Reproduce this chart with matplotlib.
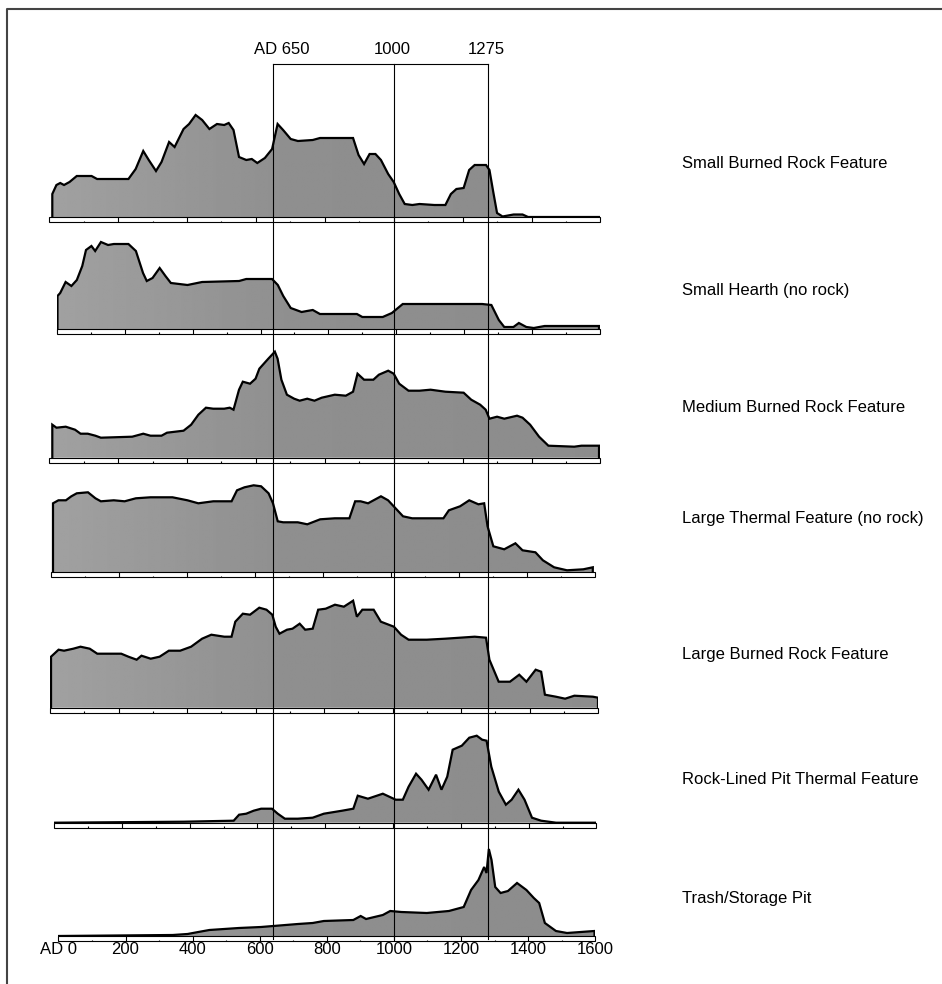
import matplotlib
matplotlib.use("Agg")
import matplotlib.pyplot as plt
import numpy as np
from matplotlib.patches import Rectangle, Polygon
from matplotlib.lines import Line2D
from matplotlib.transforms import blended_transform_factory, offset_copy

plt.rcParams['font.family'] = ['Liberation Sans', 'DejaVu Sans']

W, H = 942, 984

# --- data (relative frequency) ---
feature_names = ["Small Burned Rock Feature", "Small Hearth (no rock)",
                 "Medium Burned Rock Feature", "Large Thermal Feature (no rock)",
                 "Large Burned Rock Feature", "Rock-Lined Pit Thermal Feature",
                 "Trash/Storage Pit"]

small_burned_yr = [9, 21, 32, 43, 59, 80, 123, 139, 230, 251, 273, 289, 310, 326, 348,
                   364, 390, 406, 425, 444, 465, 487, 508, 521, 535, 551, 572, 588, 604,
                   626, 647, 663, 679, 701, 722, 765, 786, 882, 898, 914, 930, 947, 963,
                   984, 1000, 1016, 1032, 1054, 1075, 1118, 1150, 1166, 1182, 1203, 1219,
                   1235, 1268, 1278, 1289, 1300, 1316, 1348, 1374, 1390, 1600]
small_burned_h = [23, 32, 34, 32, 35, 41, 41, 38, 38, 48, 66, 57, 46, 55, 75,
                  70, 88, 93, 102, 97, 88, 93, 92, 94, 87, 60, 57, 58, 54,
                  59, 68, 93, 87, 78, 76, 77, 79, 79, 62, 53, 63, 63, 57,
                  43, 35, 23, 13, 12, 13, 12, 12, 23, 28, 29, 47,
                  52, 52, 47, 25, 4, 0.5, 2.5, 2.5, 0, 0]

small_hearth_yr = [2, 10, 26, 43, 59, 75, 86, 102, 113, 130, 151, 168, 211, 233, 254,
                   265, 282, 303, 320, 336, 385, 428, 537, 558, 634, 651, 667, 689, 721,
                   737, 754, 775, 884, 900, 960, 987, 1019, 1101, 1253, 1280, 1302, 1318,
                   1345, 1361, 1383, 1405, 1437, 1597]
small_hearth_h = [33, 36, 47, 43, 49, 63, 79, 83, 78, 87, 84, 85, 85, 78, 56,
                  48, 51, 61, 53, 46, 44, 47, 48, 50, 50, 44, 33, 21, 17,
                  18, 19, 15, 15, 12, 12, 16, 25, 25, 25, 24, 9, 2,
                  2, 6, 2, 1, 3, 3]

medium_burned_yr = [9, 21, 48, 75, 91, 112, 134, 150, 241, 273, 294, 326, 342, 390, 412,
                    433, 455, 476, 508, 524, 535, 551, 562, 583, 599, 610, 636, 655, 663,
                    674, 690, 711, 727, 749, 770, 791, 829, 861, 882, 895, 914, 941, 957,
                    984, 1000, 1016, 1043, 1075, 1107, 1150, 1203, 1225, 1251, 1267, 1278,
                    1300, 1321, 1358, 1374, 1396, 1422, 1449, 1524, 1545, 1596]
medium_burned_h = [33, 30, 31, 28, 24, 24, 22, 20, 21, 24, 22, 22, 25, 27, 33,
                   43, 50, 49, 49, 50, 48, 68, 76, 74, 79, 89, 99, 106, 99,
                   78, 63, 59, 57, 59, 57, 60, 63, 62, 66, 84, 78, 78, 83,
                   87, 84, 74, 67, 67, 68, 66, 65, 58, 53, 48, 39,
                   41, 39, 42, 40, 33, 21, 12, 11, 12, 12]

large_thermal_yr = [5, 21, 43, 59, 75, 108, 130, 146, 184, 216, 249, 292, 357, 401, 433,
                    477, 531, 547, 569, 596, 618, 640, 653, 667, 683, 726, 754, 792, 835,
                    878, 895, 911, 933, 971, 992, 1014, 1036, 1063, 1096, 1155, 1171, 1204,
                    1231, 1258, 1275, 1285, 1302, 1334, 1367, 1388, 1426, 1448, 1481, 1519,
                    1567, 1595]
large_thermal_h = [69, 72, 72, 76, 79, 80, 74, 71, 72, 71, 74, 75, 75, 72, 69,
                   71, 71, 82, 85, 87, 86, 79, 69, 51, 50, 50, 48, 53, 54,
                   54, 71, 71, 69, 76, 72, 64, 56, 54, 54, 54, 62, 66,
                   72, 68, 69, 46, 26, 23, 29, 22, 20, 12, 5, 2,
                   3, 5]

large_burned_yr = [3, 25, 41, 68, 89, 116, 138, 159, 208, 229, 253, 267, 294, 320, 347,
                   380, 412, 444, 471, 509, 530, 541, 563, 584, 611, 632, 649, 659, 670,
                   692, 708, 729, 745, 767, 783, 805, 832, 858, 885, 896, 912, 945, 966,
                   1004, 1025, 1047, 1100, 1154, 1240, 1273, 1283, 1310, 1343, 1370, 1391,
                   1418, 1434, 1445, 1477, 1504, 1531, 1585, 1600]
large_burned_h = [51, 58, 57, 59, 61, 59, 54, 54, 54, 51, 48, 52, 49, 51, 57,
                  57, 61, 69, 73, 71, 71, 86, 94, 93, 100, 98, 93, 81, 74,
                  78, 79, 84, 78, 79, 98, 99, 103, 101, 107, 91, 98, 98, 86,
                  81, 73, 68, 68, 69, 71, 70, 48, 26, 26, 33, 26,
                  38, 36, 13, 11, 9, 12, 11, 10]

rock_lined_yr = [2, 383, 530, 546, 567, 589, 611, 643, 660, 681, 719, 763, 796, 850, 883,
                 896, 926, 970, 1008, 1029, 1046, 1068, 1084, 1105, 1127, 1143, 1160, 1176,
                 1203, 1225, 1247, 1263, 1276, 1290, 1312, 1333, 1350, 1370, 1388, 1410,
                 1437, 1481, 1600]
rock_lined_h = [0, 1, 2, 8, 9, 12, 14, 14, 9, 4, 4, 5, 9, 12, 14,
                27, 24, 29, 23, 23, 36, 49, 43, 33, 48, 33, 46, 73,
                77, 85, 87, 83, 82, 56, 31, 18, 23, 33, 23, 5,
                2, 0, 0]

trash_pit_yr = [0, 341, 385, 417, 450, 538, 604, 714, 758, 791, 879, 901, 917, 967, 989,
                1022, 1098, 1164, 1208, 1230, 1252, 1269, 1276, 1283, 1291, 1302, 1318,
                1340, 1367, 1395, 1417, 1433, 1450, 1483, 1516, 1598]
trash_pit_h = [0, 1, 2, 4, 6, 8, 9, 12, 13, 15, 16, 20, 17, 21, 25,
               24, 23, 25, 29, 46, 56, 69, 63, 87, 76, 49, 43,
               45, 53, 46, 38, 33, 13, 5, 3, 5]

series = [(small_burned_yr, small_burned_h), (small_hearth_yr, small_hearth_h),
          (medium_burned_yr, medium_burned_h), (large_thermal_yr, large_thermal_h),
          (large_burned_yr, large_burned_h), (rock_lined_yr, rock_lined_h),
          (trash_pit_yr, trash_pit_h)]

epoch_years = [650, 1000, 1275]
epoch_labels = ["AD 650", "1000", "1275"]
tick_years = list(range(0, 1601, 200))
tick_labels = ["AD 0"] + [str(t) for t in tick_years[1:]]

# --- layout in pixels (the pasted-up panels are not perfectly aligned) ---
x_start = [49.2, 56.8, 49.2, 51.3, 50.0, 54.0, 58.4]
px_per_year = [0.3445, 0.3395, 0.3445, 0.3395, 0.3425, 0.339, 0.3355]
bar_top = [217, 329, 457.7, 572.3, 707.7, 822.7, 936]
label_y = [163, 291, 408, 519, 655, 779, 899]
bar_h = 5
room = 112

fig = plt.figure(figsize=(W / 100, H / 100), dpi=100)

gx = np.linspace(0, 1600, 200)
shade = np.interp(gx, [0, 300, 700, 1600], [0.63, 0.60, 0.56, 0.55])

axes = []
for i, (yrs, vals) in enumerate(series):
    left = x_start[i]
    width = 1600 * px_per_year[i]
    bottom = bar_top[i] + bar_h
    ax = fig.add_axes([left / W, 1 - bottom / H, width / W, (bar_h + room) / H])
    ax.patch.set_visible(False)
    ax.axis('off')

    xs = [yrs[0]] + list(yrs) + [yrs[-1]]
    ys = [0] + list(vals) + [0]
    shape = Polygon(np.column_stack([xs, ys]), closed=True, fc='none', ec='none')
    ax.add_patch(shape)
    im = ax.imshow(shade[np.newaxis, :], extent=[0, 1600, 0, room], aspect='auto',
                   cmap='gray', vmin=0, vmax=1, interpolation='bilinear')
    im.set_clip_path(shape)
    ax.plot(xs, ys, color='black', lw=1.6, solid_joinstyle='miter')

    # white scale strip under each panel
    ax.add_patch(Rectangle((0, -bar_h), 1600, bar_h, fc='white', ec='black', lw=0.8,
                           clip_on=False, zorder=3))
    ax.vlines(tick_years[1:-1], -bar_h, 0, color='black', lw=0.8, zorder=4)
    ax.vlines(range(100, 1600, 200), -bar_h, -bar_h + 1.5, color='black', lw=0.8, zorder=4)

    ax.set_xlim(0, 1600)
    ax.set_ylim(-bar_h, room)
    axes.append(ax)

    fig.text(681.7 / W, 1 - label_y[i] / H, feature_names[i], ha='left', va='center',
             fontsize=12)

# bottom time scale
for t, lab in zip(tick_years, tick_labels):
    axes[-1].text(t, -bar_h - 9, lab, ha='center', va='center', fontsize=12)

# period lines and bracket
trans = blended_transform_factory(axes[0].transData, fig.transFigure)
y_top = 1 - 64 / H
y_bot = 1 - 939 / H
for yr in epoch_years:
    fig.add_artist(Line2D([yr, yr], [y_bot, y_top], transform=trans, color='black', lw=0.8))
fig.add_artist(Line2D([epoch_years[0], epoch_years[-1]], [y_top, y_top], transform=trans,
                      color='black', lw=0.8))
label_dx = [9, -1, -2]
for yr, lab, dx in zip(epoch_years, epoch_labels, label_dx):
    fig.text(yr, 1 - 49 / H, lab, ha='center', va='center', fontsize=12,
             transform=offset_copy(trans, fig=fig, x=dx * 0.72, units='points'))

# frame of the scanned page
fig.add_artist(Line2D([7 / W, 7 / W, 1], [0, 1 - 9 / H, 1 - 9 / H],
                      transform=fig.transFigure, color='#444444', lw=1.5))

fig.savefig("out.png", dpi=100)
